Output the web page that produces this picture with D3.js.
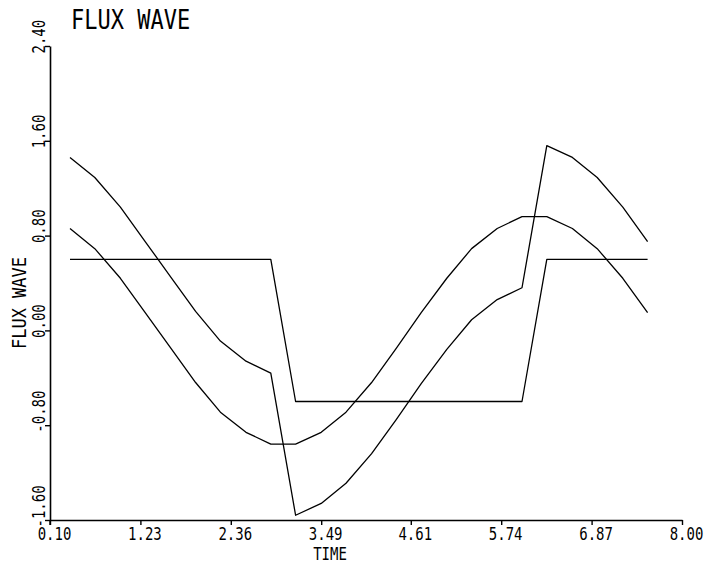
<!DOCTYPE html>
<html><head><meta charset="utf-8">
<script src="https://cdn.jsdelivr.net/npm/d3@7"></script>
<style>body{margin:0;background:#fff}svg{display:block}</style>
</head><body><svg id="c" width="709" height="563"></svg>
<script>
// sample times
const times = [0.35, 0.66, 0.98, 1.29, 1.61, 1.92, 2.23, 2.55, 2.86, 3.17, 3.49, 3.80,
               4.12, 4.43, 4.74, 5.06, 5.37, 5.69, 6.00, 6.31, 6.63, 6.94, 7.26, 7.57];
// square wave
const squareWave = [0.60, 0.60, 0.60, 0.60, 0.60, 0.60, 0.60, 0.60, 0.60,
                    -0.60, -0.60, -0.60, -0.60, -0.60, -0.60, -0.60, -0.60, -0.60, -0.60,
                    0.60, 0.60, 0.60, 0.60, 0.60];
// fundamental (smooth) wave
const fundamental = [0.86, 0.69, 0.44, 0.15, -0.15, -0.44, -0.69, -0.86, -0.96,
                     -0.96, -0.86, -0.69, -0.44, -0.15, 0.15, 0.44, 0.69, 0.86, 0.96,
                     0.96, 0.86, 0.69, 0.44, 0.15];
// total flux wave
const fluxTotal = [1.46, 1.29, 1.04, 0.75, 0.45, 0.16, -0.09, -0.26, -0.36,
                   -1.56, -1.46, -1.29, -1.04, -0.75, -0.45, -0.16, 0.09, 0.26, 0.36,
                   1.56, 1.46, 1.29, 1.04, 0.75];

const xTickValues = [0.10, 1.23, 2.36, 3.49, 4.61, 5.74, 6.87, 8.00];
const xTickLabels = ["0.10", "1.23", "2.36", "3.49", "4.61", "5.74", "6.87", "8.00"];
const yTickValues = [-1.60, -0.80, 0.00, 0.80, 1.60, 2.40];
const yTickLabels = ["-1.60", "-0.80", "0.00", "0.80", "1.60", "2.40"];

const titleText = "FLUX WAVE";
const xTitle = "TIME";
const yTitle = "FLUX WAVE";

const FONT = "'DejaVu Sans Mono', monospace";
const svg = d3.select("#c");

const x = d3.scaleLinear().domain([0.10, 8.00]).range([50, 682]);
const y = d3.scaleLinear().domain([-1.60, 2.40]).range([520, 46]);

// axes
const gx = svg.append("g").attr("transform", `translate(0,${y(-1.60)})`)
  .call(d3.axisBottom(x).tickValues(xTickValues)
    .tickFormat((d, i) => xTickLabels[i]).tickSize(5).tickSizeOuter(0));
gx.select(".domain").attr("stroke", "#000").attr("stroke-width", 1.6);
gx.selectAll(".tick line").attr("stroke", "#000").attr("stroke-width", 1.4);
gx.selectAll(".tick text")
  .attr("x", 0).attr("y", 0).attr("dy", 0)
  .attr("transform", "translate(4,20) scale(1,1.2)")
  .attr("font-family", FONT).attr("font-size", 14).attr("fill", "#000");

const gy = svg.append("g").attr("transform", `translate(${x(0.10)},0)`)
  .call(d3.axisLeft(y).tickValues(yTickValues)
    .tickFormat((d, i) => yTickLabels[i]).tickSize(5).tickSizeOuter(0));
gy.select(".domain").attr("stroke", "#000").attr("stroke-width", 1.6);
gy.selectAll(".tick line").attr("stroke", "#000").attr("stroke-width", 1.4);
gy.selectAll(".tick text")
  .attr("x", 0).attr("y", 0).attr("dy", 0)
  .attr("text-anchor", "start")
  .attr("transform", "translate(-5,7) rotate(-90) scale(1,1.2)")
  .attr("font-family", FONT).attr("font-size", 14).attr("fill", "#000");

// small extension of y axis below x axis
svg.append("line")
  .attr("x1", x(0.10)).attr("x2", x(0.10))
  .attr("y1", y(-1.60)).attr("y2", y(-1.60) + 5)
  .attr("stroke", "#000").attr("stroke-width", 1.4);

// series
const line = d3.line().x(d => x(d[0])).y(d => y(d[1]));
[squareWave, fundamental, fluxTotal].forEach(vals => {
  svg.append("path")
    .datum(times.map((t, i) => [t, vals[i]]))
    .attr("d", line)
    .attr("fill", "none")
    .attr("stroke", "#000")
    .attr("stroke-width", 1.3)
    .attr("stroke-linejoin", "round");
});

// titles
svg.append("text")
  .attr("transform", "translate(71,29) scale(1,1.2)")
  .attr("font-family", FONT).attr("font-size", 22).attr("fill", "#000")
  .text(titleText);

svg.append("text")
  .attr("transform", "translate(330,560) scale(1,1.2)")
  .attr("text-anchor", "middle")
  .attr("font-family", FONT).attr("font-size", 14).attr("fill", "#000")
  .text(xTitle);

svg.append("text")
  .attr("transform", "translate(26,303) rotate(-90) scale(1,1.1)")
  .attr("text-anchor", "middle")
  .attr("font-family", FONT).attr("font-size", 17).attr("fill", "#000")
  .text(yTitle);
</script>
</body></html>
